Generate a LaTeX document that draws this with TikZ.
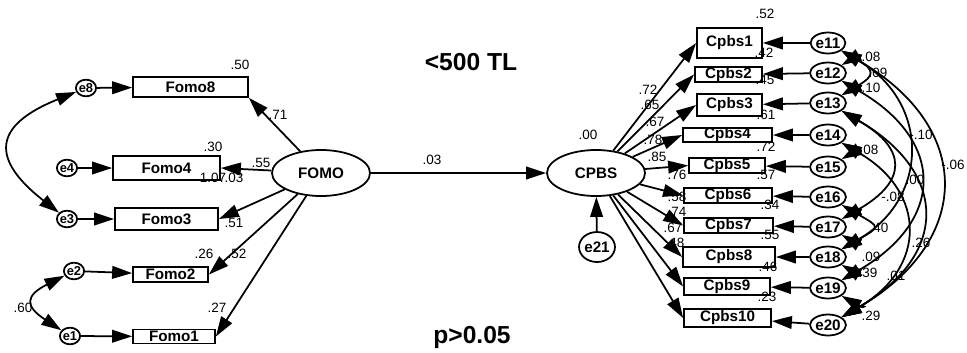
\documentclass[tikz,border=0pt]{standalone}
\usepackage{fontspec}
\setmainfont{Liberation Sans}
\usetikzlibrary{arrows.meta, shapes.geometric}

\tikzstyle{arrow}    = [line width=1.5pt, -{Triangle[length=6mm,width=3.8mm]}]
\tikzstyle{covar}    = [line width=1.5pt, {Triangle[length=6mm,width=3.8mm]}-{Triangle[length=6mm,width=3.8mm]}]
\tikzstyle{obsbox}   = [draw, line width=1.5pt, rectangle, inner sep=0pt, font=\fontsize{13}{13}\selectfont\bfseries]
\tikzstyle{latent}   = [draw, ellipse, line width=1.5pt, minimum width=29.4mm, minimum height=13.8mm, inner sep=0pt, font=\fontsize{13}{13}\selectfont\bfseries]
\tikzstyle{errsmall} = [draw, ellipse, line width=1.5pt, minimum width=6mm, minimum height=5mm, inner sep=0pt, font=\fontsize{11}{11}\selectfont\bfseries]
\tikzstyle{errbig}   = [draw, ellipse, line width=1.5pt, minimum width=8.1mm, minimum height=6.3mm, inner sep=0pt, font=\fontsize{13}{13}\selectfont\bfseries]
\tikzstyle{est}      = [inner sep=0pt, font=\fontsize{11.5}{11.5}\selectfont]
\tikzstyle{heading}  = [inner sep=0pt, font=\fontsize{21}{21}\selectfont\bfseries]

\begin{document}
\begin{tikzpicture}[x=0.3mm, y=-0.3mm]

\useasboundingbox (0,0) rectangle (967,352);

% headings
\node[heading] (T1) at (471,62) {<500 TL};
\node[heading] (T2) at (472,337) {p>0.05};

% estimates, left part
\node[est] (rF8) at (240,65) {.50};
\node[est] (wF8) at (278,115) {.71};
\node[est] (rF4) at (213,147) {.30};
\node[est] (wF4) at (261,163) {.55};
\node[est] (rF3) at (213,178) {1.07};
\node[est] (wF3) at (234,178) {.03};
\node[est] (wF2) at (234,223) {.51};
\node[est] (rF2) at (204,254) {.26};
\node[est] (wF1) at (237,254) {.52};
\node[est] (rF1) at (217,308) {.27};
\node[est] (cE2E1) at (23,308) {.60};

\node[est] (wCP) at (432,160) {.03};
\node[est] (rCP) at (588,135) {.00};

% estimates, right part
\node[est] (wC1) at (648,90) {.72};
\node[est] (wC2) at (650,105) {.65};
\node[est] (wC3) at (655,122) {.67};
\node[est] (wC4) at (653,140) {.78};
\node[est] (wC5) at (657,157) {.85};
\node[est] (wC6) at (677,175) {.76};
\node[est] (wC7) at (677,197) {.58};
\node[est] (wC8) at (677,212) {.74};
\node[est] (wC9) at (673,228) {.67};
\node[est] (wC10) at (675,243) {.48};

\node[est] (rC1) at (765,14) {.52};
\node[est] (rC2) at (764,53) {.42};
\node[est] (rC3) at (765,80) {.45};
\node[est] (rC4) at (766,115) {.61};
\node[est] (rC5) at (766,147) {.72};
\node[est] (rC6) at (766,175) {.57};
\node[est] (rC7) at (770,205) {.34};
\node[est] (rC8) at (770,235) {.55};
\node[est] (rC9) at (768,267) {.46};
\node[est] (rC10) at (767,297) {.23};

\node[est] (c1) at (871,57) {.08};
\node[est] (c2) at (878,73) {.09};
\node[est] (c3) at (871,88) {.10};
\node[est] (c4) at (921,135) {-.10};
\node[est] (c5) at (953,165) {-.06};
\node[est] (c6) at (869,150) {.08};
\node[est] (c7) at (915,180) {.00};
\node[est] (c8) at (893,197) {-.08};
\node[est] (c9) at (879,228) {.40};
\node[est] (c10) at (921,243) {.26};
\node[est] (c11) at (871,257) {.09};
\node[est] (c12) at (868,273) {.39};
\node[est] (c13) at (896,276) {.01};
\node[est] (c14) at (871,316) {.29};

% FOMO side
\node[latent] (FOMO) at (321,173) {FOMO};

\node[obsbox, minimum width=34.5mm, minimum height=6mm] (F8) at (190.5,87) {Fomo8};
\node[obsbox, minimum width=32.1mm, minimum height=7.2mm] (F4) at (166.5,168) {Fomo4};
\node[obsbox, minimum width=30.9mm, minimum height=6.6mm] (F3) at (166.5,219) {Fomo3};
\node[obsbox, minimum width=22.5mm, minimum height=4.5mm] (F2) at (170.5,274.5) {Fomo2};
\node[obsbox, minimum width=24.6mm, minimum height=4.2mm] (F1) at (174,336.5) {Fomo1};

\node[errsmall] (E8) at (86,88) {e8};
\node[errsmall] (E4) at (67,168) {e4};
\node[errsmall] (E3) at (67,219) {e3};
\node[errsmall] (E2) at (74,271) {e2};
\node[errsmall] (E1) at (70,336) {e1};

% CPBS side
\node[latent] (CPBS) at (596,173) {CPBS};
\node[errbig, minimum width=10.5mm, minimum height=9mm] (E21) at (597,247) {e21};

\node[obsbox, minimum width=19.5mm, minimum height=9mm] (C1) at (729.5,43) {Cpbs1};
\node[obsbox, minimum width=20.1mm, minimum height=4.5mm] (C2) at (728.5,74.5) {Cpbs2};
\node[obsbox, minimum width=19.5mm, minimum height=6.6mm] (C3) at (729.5,105) {Cpbs3};
\node[obsbox, minimum width=26.7mm, minimum height=4.2mm] (C4) at (727.5,135) {Cpbs4};
\node[obsbox, minimum width=22.8mm, minimum height=4.5mm] (C5) at (727,165.5) {Cpbs5};
\node[obsbox, minimum width=26.4mm, minimum height=4.5mm] (C6) at (728,195.5) {Cpbs6};
\node[obsbox, minimum width=26.7mm, minimum height=4.5mm] (C7) at (728.5,225.5) {Cpbs7};
\node[obsbox, minimum width=27.6mm, minimum height=6mm] (C8) at (729,257) {Cpbs8};
\node[obsbox, minimum width=25.8mm, minimum height=5.1mm] (C9) at (727,286.5) {Cpbs9};
\node[obsbox, minimum width=26.1mm, minimum height=5.4mm] (C10) at (727.5,318) {Cpbs10};

\node[errbig] (E11) at (828,43) {e11};
\node[errbig] (E12) at (828,73) {e12};
\node[errbig] (E13) at (828,103) {e13};
\node[errbig] (E14) at (828,135) {e14};
\node[errbig] (E15) at (828,167) {e15};
\node[errbig] (E16) at (828,197) {e16};
\node[errbig] (E17) at (828,227) {e17};
\node[errbig] (E18) at (828,257) {e18};
\node[errbig] (E19) at (828,288) {e19};
\node[errbig] (E20) at (828,325) {e20};

% paths
\draw[arrow] (E8) -- (F8);
\draw[arrow] (E4) -- (F4);
\draw[arrow] (E3) -- (F3);
\draw[arrow] (E2) -- (F2);
\draw[arrow] (E1) -- (F1);

\draw[arrow] (FOMO) -- (F8.south east);
\draw[arrow] (FOMO) -- (F4.east);
\draw[arrow] (FOMO) -- (F3.east);
\draw[arrow] (FOMO) -- (F2.east);
\draw[arrow] (FOMO) -- (F1.east);

\draw[covar] (E8) to[bend right=60, looseness=1.86] (E3);
\draw[covar] (E2) to[bend right=60, looseness=2.06] (E1);

\draw[arrow] (FOMO) -- (CPBS);
\draw[arrow] (E21) -- (CPBS);

\draw[arrow] (CPBS) -- (C1.west);
\draw[arrow] (CPBS) -- (C2.west);
\draw[arrow] (CPBS) -- (C3.west);
\draw[arrow] (CPBS) -- (C4.west);
\draw[arrow] (CPBS) -- (C5.west);
\draw[arrow] (CPBS) -- (C6.west);
\draw[arrow] (CPBS) -- (C7.west);
\draw[arrow] (CPBS) -- (C8.west);
\draw[arrow] (CPBS) -- (C9.west);
\draw[arrow] (CPBS) -- (C10.west);

\draw[arrow] (E11) -- (C1);
\draw[arrow] (E12) -- (C2);
\draw[arrow] (E13) -- (C3);
\draw[arrow] (E14) -- (C4);
\draw[arrow] (E15) -- (C5);
\draw[arrow] (E16) -- (C6);
\draw[arrow] (E17) -- (C7);
\draw[arrow] (E18) -- (C8);
\draw[arrow] (E19) -- (C9);
\draw[arrow] (E20) -- (C10);

% error covariances
\draw[covar] (E11) to[bend left=60, looseness=3.7] (E12);
\draw[covar] (E11) to[bend left=60, looseness=2.2] (E13);
\draw[covar] (E12) to[bend left=60, looseness=3.7] (E13);
\draw[covar] (E11) to[bend left=60, looseness=1.32] (E18);
\draw[covar] (E11) to[bend left=60, looseness=1.47] (E20);
\draw[covar] (E14) to[bend left=60, looseness=3.7] (E15);
\draw[covar] (E12) to[bend left=60, looseness=1.54] (E19);
\draw[covar] (E13) to[bend left=60, looseness=1.8] (E17);
\draw[covar] (E16) to[bend left=60, looseness=2.6] (E18);
\draw[covar] (E13) to[bend left=60, looseness=1.54] (E20);
\draw[covar] (E17) to[bend left=60, looseness=3.8] (E18);
\draw[covar] (E18) to[bend left=60, looseness=3.7] (E19);
\draw[covar] (E14) to[bend left=60, looseness=1.45] (E20);
\draw[covar] (E19) to[bend left=60, looseness=3.4] (E20);

\end{tikzpicture}
\end{document}
